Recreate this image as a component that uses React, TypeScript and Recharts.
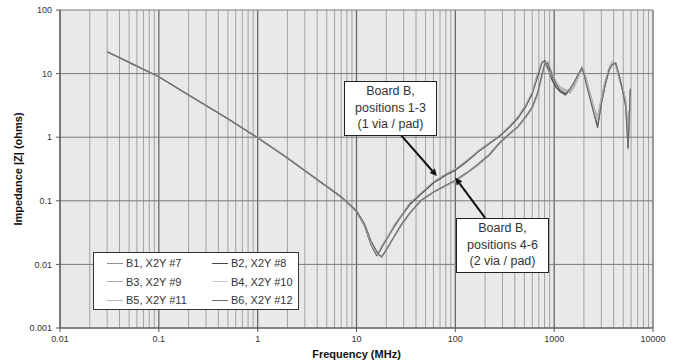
import React from 'react';
import { LineChart, Line, XAxis, YAxis, ReferenceLine, CartesianGrid } from 'recharts';

// frequency points (MHz)
const FREQ_MHZ = [
  0.03, 0.05, 0.1, 0.2, 0.5, 1, 2, 4, 7, 10,
  12, 14, 15, 16, 17, 18, 19, 21, 24, 28,
  35, 45, 60, 80, 100, 130, 170, 220, 280, 350,
  430, 520, 600, 680, 750, 800, 860, 950, 1050, 1150,
  1300, 1450, 1600, 1750, 1900, 2000, 2150, 2350, 2550, 2750,
  3000, 3300, 3600, 3900, 4200, 4600, 5000, 5300, 5600, 5900,
];

// |Z| in ohms, board B, 1 via / pad
const B1 = [
  22, 15, 8.9, 4.6, 1.95, 0.98, 0.47, 0.215, 0.115, 0.068,
  0.042, 0.021, 0.017, 0.0142, 0.016, 0.019, 0.022, 0.028, 0.04, 0.057,
  0.092, 0.13, 0.195, 0.26, 0.31, 0.42, 0.6, 0.8, 1.05, 1.45,
  2.05, 3.2, 5.0, 9.5, 15, 15.5, 12, 8.5, 6.5, 5.6,
  4.9, 5.4, 6.8, 9, 12.5, 11, 7, 4.2, 2.6, 1.9,
  3.8, 7.5, 12, 15, 14, 8, 5.5, 3.6, 0.9, 5,
];
const B2 = [
  22, 15, 8.9, 4.6, 1.95, 0.98, 0.47, 0.214, 0.114, 0.067,
  0.041, 0.0205, 0.0165, 0.0138, 0.0157, 0.0185, 0.0215, 0.0275, 0.039, 0.056,
  0.089, 0.128, 0.19, 0.252, 0.302, 0.41, 0.59, 0.79, 1.03, 1.42,
  2.0, 3.1, 4.8, 9.0, 14.5, 16, 12.5, 8, 6, 5.2,
  4.6, 5.6, 7.2, 9.5, 11.5, 10.5, 6.5, 3.8, 2.3, 1.5,
  3.5, 7, 11.5, 14.5, 14.5, 8.5, 5, 3.2, 0.7, 5.5,
];
const B3 = [
  22, 15, 8.9, 4.6, 1.95, 0.98, 0.47, 0.216, 0.116, 0.069,
  0.043, 0.0215, 0.0172, 0.0145, 0.0163, 0.0195, 0.0225, 0.0285, 0.041, 0.058,
  0.094, 0.133, 0.2, 0.265, 0.315, 0.43, 0.61, 0.82, 1.07, 1.48,
  2.1, 3.3, 5.2, 10, 15.5, 15, 11.5, 9, 7, 6,
  5.4, 5.0, 6.2, 8.5, 12, 11.5, 7.5, 4.5, 2.8, 2.1,
  4.2, 8, 12.5, 15.5, 13.5, 7.5, 5.8, 3.9, 1.1, 4.5,
];

// |Z| in ohms, board B, 2 via / pad
const B4 = [
  22, 15, 8.9, 4.6, 1.95, 0.98, 0.47, 0.215, 0.115, 0.069,
  0.043, 0.023, 0.019, 0.016, 0.0138, 0.0131, 0.0148, 0.019, 0.027, 0.04,
  0.065, 0.1, 0.136, 0.172, 0.205, 0.27, 0.37, 0.52, 0.8, 1.1,
  1.45, 2.1, 2.9, 4.8, 9, 13.5, 15, 10, 7, 5.8,
  5.2, 5.6, 6.9, 9.2, 12, 10.5, 6.8, 4, 2.4, 1.8,
  3.6, 7.2, 12, 14.5, 14, 8.2, 5.2, 3.4, 0.8, 4.8,
];
const B5 = [
  22, 15, 8.9, 4.6, 1.95, 0.98, 0.47, 0.214, 0.114, 0.068,
  0.042, 0.0225, 0.0185, 0.0155, 0.0135, 0.0128, 0.0145, 0.0185, 0.0265, 0.039,
  0.064, 0.098, 0.134, 0.168, 0.2, 0.265, 0.36, 0.51, 0.78, 1.08,
  1.42, 2.05, 2.8, 4.6, 8.5, 13, 15.5, 10.5, 7.5, 6.2,
  5.6, 5.2, 6.4, 8.8, 11.5, 11, 7.2, 4.3, 2.6, 2.0,
  3.9, 7.6, 12.5, 15, 13.5, 7.8, 5.4, 3.7, 1.0, 5.2,
];
const B6 = [
  22, 15, 8.9, 4.6, 1.95, 0.98, 0.47, 0.216, 0.116, 0.07,
  0.044, 0.0235, 0.0195, 0.0162, 0.014, 0.0133, 0.015, 0.0195, 0.0275, 0.041,
  0.066, 0.102, 0.138, 0.175, 0.21, 0.275, 0.38, 0.53, 0.82, 1.12,
  1.48, 2.15, 3.0, 5.0, 9.5, 14, 14.5, 9.5, 6.8, 5.4,
  4.8, 5.8, 7.4, 9.8, 12.2, 10, 6.2, 3.6, 2.2, 1.4,
  3.3, 6.8, 11.5, 14, 14.5, 8.8, 4.8, 3.0, 0.65, 5.8,
];

const SERIES = [
  { key: 'b1', name: 'B1, X2Y #7', color: '#8c8c8c', values: B1 },
  { key: 'b2', name: 'B2, X2Y #8', color: '#4a4a4a', values: B2 },
  { key: 'b3', name: 'B3, X2Y #9', color: '#a6a6a6', values: B3 },
  { key: 'b4', name: 'B4, X2Y #10', color: '#cacaca', values: B4 },
  { key: 'b5', name: 'B5, X2Y #11', color: '#b6b6b6', values: B5 },
  { key: 'b6', name: 'B6, X2Y #12', color: '#6c6c6c', values: B6 },
];

const X_DECADES = [0.01, 0.1, 1, 10, 100, 1000, 10000];
const Y_DECADES = [0.001, 0.01, 0.1, 1, 10, 100];
const MINOR_STEPS = [2, 3, 4, 5, 6, 7, 8, 9];

const NOTES = [
  { lines: ['Board B,', 'positions 1-3', '(1 via / pad)'], left: 344, top: 81, from: { x: 27.6, y: 1.12 }, to: { x: 65, y: 0.245 } },
  { lines: ['Board B,', 'positions 4-6', '(2 via / pad)'], left: 456, top: 218, from: { x: 200, y: 0.054 }, to: { x: 100, y: 0.23 } },
];

const data = FREQ_MHZ.map((f, i) => {
  const row: any = { f };
  SERIES.forEach(s => { row[s.key] = s.values[i]; });
  return row;
});

const xMinor = X_DECADES.slice(0, -1).flatMap(d => MINOR_STEPS.map(m => +(d * m).toPrecision(3)));

const FONT = '"Liberation Sans", Arial, sans-serif';

const Arrow = (props: any) => {
  const { x1, y1, x2, y2 } = props;
  const ang = Math.atan2(y2 - y1, x2 - x1);
  const len = 7, w = 3.5;
  const bx = x2 - len * Math.cos(ang), by = y2 - len * Math.sin(ang);
  const p1 = `${bx + w * Math.sin(ang)},${by - w * Math.cos(ang)}`;
  const p2 = `${bx - w * Math.sin(ang)},${by + w * Math.cos(ang)}`;
  return (
    <g>
      <line x1={x1} y1={y1} x2={bx} y2={by} stroke="#111" strokeWidth={2} />
      <polygon points={`${x2},${y2} ${p1} ${p2}`} fill="#111" />
    </g>
  );
};

export default function App() {
  return (
    <div style={{ position: 'absolute', left: 0, top: 0, width: 678, height: 362, background: '#fff', fontFamily: FONT }}>
      <LineChart width={678} height={362} data={data} margin={{ top: 10, right: 25, bottom: 0, left: 0 }}>
        <CartesianGrid fill="#e9e9e9" horizontal={false} vertical={false} />
        {xMinor.map(v => (
          <ReferenceLine key={'xm' + v} x={v} stroke="#a2a2a2" strokeWidth={1} />
        ))}
        {X_DECADES.map(v => (
          <ReferenceLine key={'xd' + v} x={v} stroke="#6a6a6a" strokeWidth={1.3} />
        ))}
        {Y_DECADES.map(v => (
          <ReferenceLine key={'yd' + v} y={v} stroke="#7a7a7a" strokeWidth={1} />
        ))}
        <XAxis
          dataKey="f"
          type="number"
          scale="log"
          domain={[0.01, 10000]}
          ticks={X_DECADES}
          allowDataOverflow
          height={34}
          stroke="#555"
          tickSize={4}
          tickMargin={4}
          tick={{ fontSize: 9, fill: '#333', fontFamily: FONT }}
          label={{ value: 'Frequency (MHz)', position: 'insideBottom', offset: 4, style: { fontSize: 11, fontWeight: 'bold', fill: '#111', fontFamily: FONT } }}
        />
        <YAxis
          type="number"
          scale="log"
          domain={[0.001, 100]}
          ticks={Y_DECADES}
          allowDataOverflow
          width={60}
          stroke="#555"
          tickSize={4}
          tickMargin={4}
          tick={{ fontSize: 9, fill: '#333', fontFamily: FONT }}
          label={{ value: 'Impedance |Z| (ohms)', angle: -90, position: 'insideLeft', offset: 18, style: { textAnchor: 'middle', fontSize: 11, fontWeight: 'bold', fill: '#111', fontFamily: FONT } }}
        />
        {SERIES.map(s => (
          <Line
            key={s.key}
            dataKey={s.key}
            name={s.name}
            type="linear"
            stroke={s.color}
            strokeWidth={1.2}
            dot={false}
            isAnimationActive={false}
          />
        ))}
        {NOTES.map((n, i) => (
          <ReferenceLine key={'ar' + i} segment={[n.from, n.to]} shape={<Arrow />} ifOverflow="visible" />
        ))}
      </LineChart>

      {NOTES.map((n, i) => (
        <div
          key={'note' + i}
          style={{
            position: 'absolute', left: n.left, top: n.top, width: 91, height: 52,
            border: '1px solid #222', background: '#fff', color: '#333',
            fontSize: 12.5, lineHeight: '16.5px', textAlign: 'center', paddingTop: 1,
          }}
        >
          {n.lines.map(l => <div key={l}>{l}</div>)}
        </div>
      ))}

      <div
        style={{
          position: 'absolute', left: 93, top: 252, width: 204, height: 55,
          border: '1px solid #333', background: '#fff', color: '#333', fontSize: 11,
          display: 'grid', gridTemplateColumns: '105px 99px', gridAutoRows: '18.5px', paddingTop: 1,
        }}
      >
        {SERIES.map(s => (
          <div key={s.key} style={{ display: 'flex', alignItems: 'center', paddingLeft: 13 }}>
            <span style={{ display: 'inline-block', width: 16, height: 0, borderTop: `1.5px solid ${s.color}`, marginRight: 3 }} />
            <span>{s.name}</span>
          </div>
        ))}
      </div>
    </div>
  );
}
